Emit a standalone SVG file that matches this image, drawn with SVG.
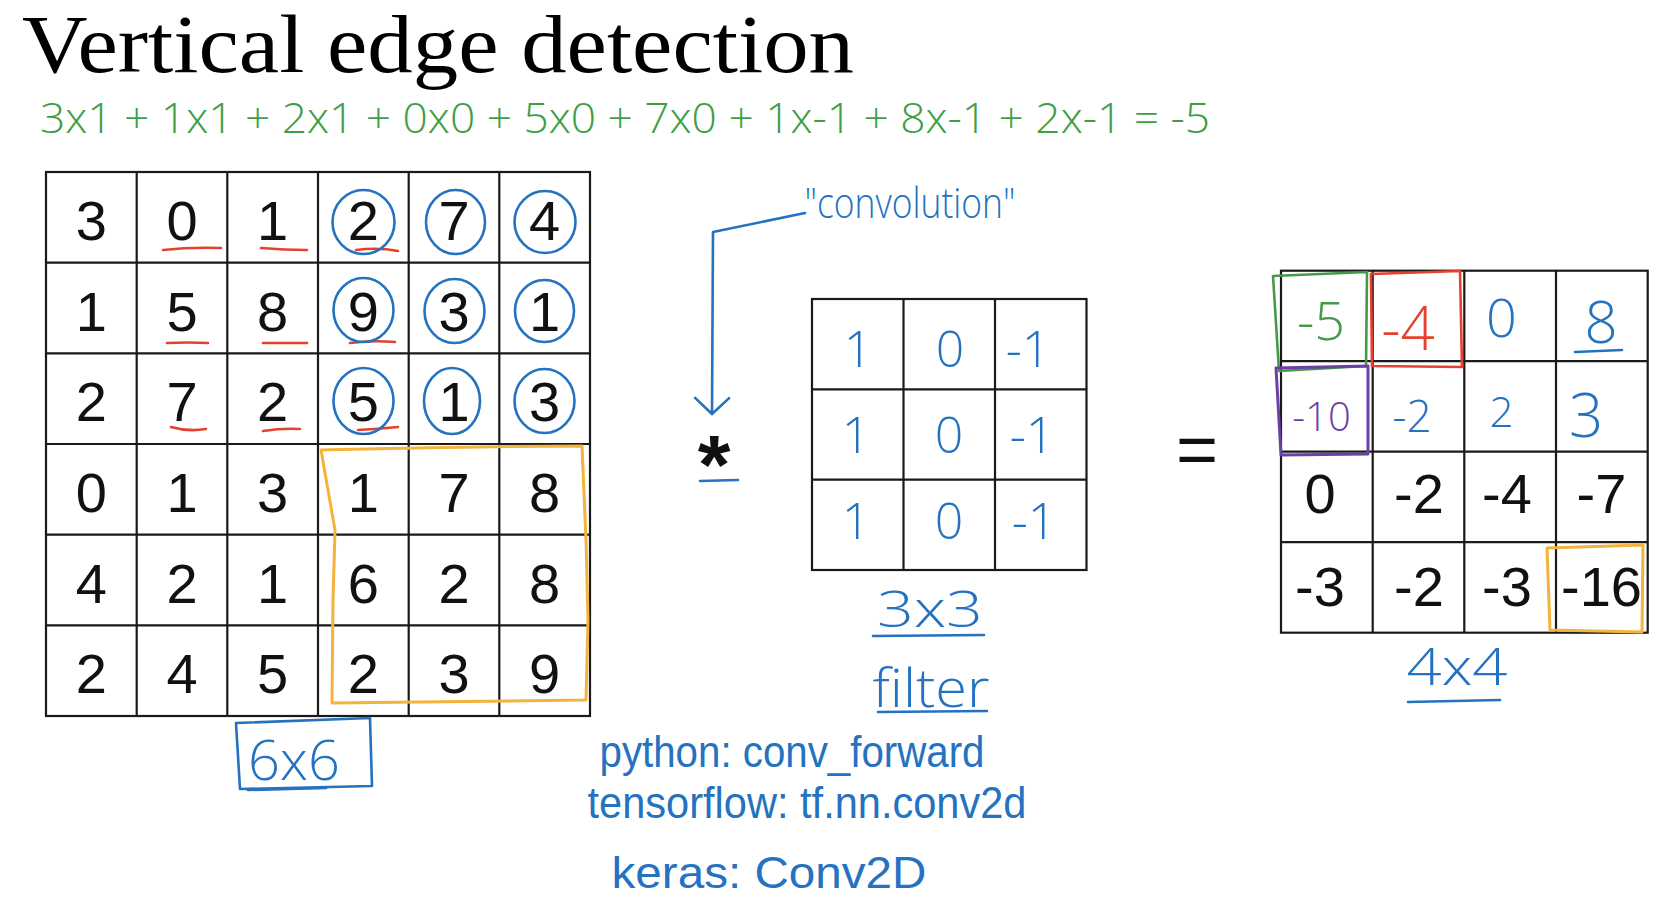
<svg xmlns="http://www.w3.org/2000/svg" width="1668" height="900" viewBox="0 0 1668 900">
<defs>
<style>
.grid{fill:none;stroke:#1a1a1a;stroke-width:2.2}
.num{font-family:"Liberation Sans",Arial,sans-serif;font-size:56px;fill:#111;text-anchor:middle}
.hw{font-family:"Open Sans","Liberation Sans",sans-serif;font-weight:300;text-anchor:middle}
.note{font-family:"Liberation Sans",Arial,sans-serif;font-size:44px;text-anchor:middle;fill:#2472c0}
.blue{fill:#2472c0}
.bs{fill:none;stroke:#2472c0;stroke-width:2.6;stroke-linecap:round;stroke-linejoin:round}
.rs{fill:none;stroke:#e4412e;stroke-width:2.6;stroke-linecap:round}
.os{fill:none;stroke:#f3b33c;stroke-width:3;stroke-linecap:round;stroke-linejoin:round}
.gs{fill:none;stroke:#44994a;stroke-width:2.6;stroke-linejoin:round}
.ps{fill:none;stroke:#6a3fa6;stroke-width:3;stroke-linejoin:round}
</style>
<marker id="vhead" markerUnits="userSpaceOnUse" markerWidth="40" markerHeight="40" viewBox="0 0 40 40" refX="20" refY="20" orient="auto">
<path d="M4,3 L20,20 L4,37" fill="none" stroke="#2472c0" stroke-width="2.6" stroke-linecap="round" stroke-linejoin="round"/>
</marker>
</defs>
<rect width="1668" height="900" fill="#ffffff"/>

<g id="title">
<text x="22" y="72" font-family="'Liberation Serif','Times New Roman',serif" font-size="82" fill="#000" textLength="832" lengthAdjust="spacingAndGlyphs">Vertical edge detection</text>
</g>

<g id="equation">
<text x="40" y="133" font-family="'Open Sans','Liberation Sans',sans-serif" font-weight="300" font-size="42" fill="#3e9e46" textLength="1170" lengthAdjust="spacingAndGlyphs">3x1 + 1x1  + 2x1 + 0x0 + 5x0 + 7x0 + 1x-1 + 8x-1 + 2x-1 = -5</text>
</g>

<g id="input-matrix">
<rect class="grid" x="46" y="172" width="544" height="544"/>
<path class="grid" d="M136.7,172V716M227.3,172V716M318,172V716M408.7,172V716M499.3,172V716M46,262.7H590M46,353.3H590M46,444H590M46,534.7H590M46,625.3H590"/>
<g class="num">
<text x="91.3" y="240">3</text><text x="182" y="240">0</text><text x="272.7" y="240">1</text><text x="363.3" y="240">2</text><text x="454" y="240">7</text><text x="544.7" y="240">4</text>
<text x="91.3" y="330.7">1</text><text x="182" y="330.7">5</text><text x="272.7" y="330.7">8</text><text x="363.3" y="330.7">9</text><text x="454" y="330.7">3</text><text x="544.7" y="330.7">1</text>
<text x="91.3" y="421.3">2</text><text x="182" y="421.3">7</text><text x="272.7" y="421.3">2</text><text x="363.3" y="421.3">5</text><text x="454" y="421.3">1</text><text x="544.7" y="421.3">3</text>
<text x="91.3" y="512">0</text><text x="182" y="512">1</text><text x="272.7" y="512">3</text><text x="363.3" y="512">1</text><text x="454" y="512">7</text><text x="544.7" y="512">8</text>
<text x="91.3" y="602.7">4</text><text x="182" y="602.7">2</text><text x="272.7" y="602.7">1</text><text x="363.3" y="602.7">6</text><text x="454" y="602.7">2</text><text x="544.7" y="602.7">8</text>
<text x="91.3" y="693.3">2</text><text x="182" y="693.3">4</text><text x="272.7" y="693.3">5</text><text x="363.3" y="693.3">2</text><text x="454" y="693.3">3</text><text x="544.7" y="693.3">9</text>
</g>
</g>

<g id="red-underlines">
<path class="rs" d="M163,250 Q190,247 221,248"/>
<path class="rs" d="M261,248 Q285,250 307,250"/>
<path class="rs" d="M356,250 Q378,247 398,251"/>
<path class="rs" d="M167,343 Q188,342 208,343"/>
<path class="rs" d="M263,343 L307,343"/>
<path class="rs" d="M350,343 Q372,340 395,342"/>
<path class="rs" d="M171,427 Q188,432 206,429"/>
<path class="rs" d="M263,431 Q282,428 300,429"/>
<path class="rs" d="M358,430 Q378,429 398,427"/>
</g>

<g id="blue-circles">
<ellipse class="bs" cx="363.5" cy="222" rx="31" ry="32"/>
<ellipse class="bs" cx="455.5" cy="222" rx="29.5" ry="32"/>
<ellipse class="bs" cx="545" cy="222" rx="30.5" ry="31"/>
<ellipse class="bs" cx="363.5" cy="310" rx="30" ry="32"/>
<ellipse class="bs" cx="454.5" cy="311" rx="30" ry="32"/>
<ellipse class="bs" cx="544.5" cy="311" rx="29.5" ry="31"/>
<ellipse class="bs" cx="363.5" cy="401" rx="30" ry="33"/>
<ellipse class="bs" cx="452" cy="401" rx="28" ry="33"/>
<ellipse class="bs" cx="544.5" cy="401" rx="30" ry="32"/>
</g>

<g id="orange-window">
<path class="os" d="M321,450 C420,448 500,446 582,446 L586,540 L588,620 L586,700 L420,702 L332,703 L333,600 L335,530 Z"/>
</g>

<g id="label-6x6">
<path class="bs" d="M236,723 L370,718 L372,786 L240,789 Z"/>
<path class="bs" d="M248,790 L326,788"/>
<text class="hw blue" x="294" y="780" font-size="56">6x6</text>
</g>

<g id="connectors">
<path class="bs" d="M805,213 L713,232 L712,414" marker-end="url(#vhead)"/>
</g>

<g id="convolution-label">
<text class="hw blue" x="910" y="218" font-size="42" textLength="211" lengthAdjust="spacingAndGlyphs">"convolution"</text>
</g>

<g id="operator-star">
<text x="714" y="494" font-family="'Liberation Sans',Arial,sans-serif" font-weight="bold" font-size="84" fill="#111" text-anchor="middle">*</text>
<path class="bs" d="M700,481 L738,480"/>
</g>

<g id="filter-matrix">
<rect class="grid" x="812" y="299" width="274.5" height="271"/>
<path class="grid" d="M903.5,299V570M995,299V570M812,389.3H1086.5M812,479.7H1086.5"/>
<g class="hw blue" font-size="50">
<text x="858" y="367">1</text><text x="950" y="367">0</text><text x="1028" y="367">-1</text>
<text x="856" y="453">1</text><text x="949" y="453">0</text><text x="1032" y="453">-1</text>
<text x="856" y="539">1</text><text x="949" y="539">0</text><text x="1034" y="539">-1</text>
</g>
</g>

<g id="label-3x3-filter">
<text class="hw blue" x="930" y="627" font-size="50" textLength="106" lengthAdjust="spacingAndGlyphs">3x3</text>
<path class="bs" d="M873,636 L984,635"/>
<text class="hw blue" x="931" y="707" font-size="54" textLength="117" lengthAdjust="spacingAndGlyphs">filter</text>
<path class="bs" d="M878,712 L987,711"/>
</g>

<g id="equals">
<text x="1197" y="474" font-family="'Liberation Sans',Arial,sans-serif" font-size="72" fill="#111" text-anchor="middle">=</text>
</g>

<g id="output-matrix">
<rect class="grid" x="1281" y="270.7" width="366.7" height="362"/>
<path class="grid" d="M1372.7,270.7V632.7M1464.3,270.7V632.7M1556,270.7V632.7M1281,361.2H1647.7M1281,451.7H1647.7M1281,542.2H1647.7"/>
<text class="hw" x="1321" y="340" font-size="54" fill="#44994a">-5</text>
<text class="hw" x="1408" y="350" font-size="60" fill="#e4412e">-4</text>
<text class="hw blue" x="1501.5" y="337" font-size="54">0</text>
<text class="hw blue" x="1601" y="343" font-size="58">8</text>
<path class="bs" d="M1575,352 L1622,350"/>
<text class="hw" x="1321.5" y="431" font-size="40" fill="#6a3fa6">-10</text>
<text class="hw blue" x="1412" y="432" font-size="44">-2</text>
<text class="hw blue" x="1501.5" y="427" font-size="42">2</text>
<text class="hw blue" x="1586" y="437" font-size="60">3</text>
<g class="num">
<text x="1320" y="512.5">0</text><text x="1419" y="512.5">-2</text><text x="1507" y="512.5">-4</text><text x="1601.5" y="512.5">-7</text>
<text x="1320" y="606">-3</text><text x="1419" y="606">-2</text><text x="1507" y="606">-3</text><text x="1601.5" y="606">-16</text>
</g>
<path class="gs" d="M1273,276 L1367,272 L1366,366 L1279,371 Z"/>
<path class="rs" d="M1371,274 L1460,271 L1462,367 L1372,366 Z"/>
<path class="ps" d="M1276,368 L1368,366 L1368,454 L1281,455 Z"/>
<path class="os" d="M1547,548 L1643,545 L1642,632 L1550,630 Z"/>
</g>

<g id="label-4x4">
<text class="hw blue" x="1457" y="685" font-size="52" textLength="101" lengthAdjust="spacingAndGlyphs">4x4</text>
<path class="bs" d="M1408,702 L1500,700"/>
</g>

<g id="framework-notes">
<text class="note" x="792" y="767" textLength="385" lengthAdjust="spacingAndGlyphs">python: conv_forward</text>
<text class="note" x="807" y="818" textLength="439" lengthAdjust="spacingAndGlyphs">tensorflow: tf.nn.conv2d</text>
<text class="note" x="769" y="888" textLength="315" lengthAdjust="spacingAndGlyphs">keras: Conv2D</text>
</g>
</svg>
